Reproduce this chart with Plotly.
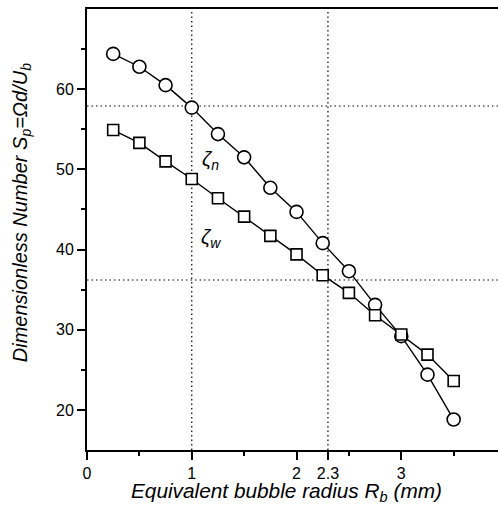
import plotly.graph_objects as go

radius = [0.25, 0.5, 0.75, 1.0, 1.25, 1.5, 1.75, 2.0, 2.25, 2.5, 2.75, 3.0, 3.25, 3.5]
zeta_n = [64.4, 62.8, 60.5, 57.7, 54.4, 51.5, 47.7, 44.7, 40.8, 37.3, 33.1, 29.2, 24.4, 18.8]
zeta_w = [54.9, 53.3, 51.0, 48.8, 46.4, 44.1, 41.7, 39.4, 36.8, 34.6, 31.8, 29.4, 26.9, 23.6]

ref_x = [1.0, 2.3]
ref_y = [57.9, 36.2]

x_tickvals = [0, 1, 2, 2.3, 3]
x_ticktext = ["0", "1", "2", "2.3", "3"]
x_minor = [0.5, 1.5, 2.5, 3.5]
y_tickvals = [20, 30, 40, 50, 60]
y_minor = [25, 35, 45, 55, 65]

XMAX = 3.99
YMIN, YMAX = 15, 70
FONT = "Liberation Sans, Arial, sans-serif"

fig = go.Figure()
fig.add_trace(go.Scatter(
    x=radius, y=zeta_n, mode="lines+markers",
    line=dict(color="black", width=1.4),
    marker=dict(symbol="circle", size=13, color="white", line=dict(color="black", width=1.6)),
    showlegend=False, cliponaxis=False, hoverinfo="skip"))
fig.add_trace(go.Scatter(
    x=radius, y=zeta_w, mode="lines+markers",
    line=dict(color="black", width=1.4),
    marker=dict(symbol="square", size=11, color="white", line=dict(color="black", width=1.6)),
    showlegend=False, cliponaxis=False, hoverinfo="skip"))

shapes = []
for xv in ref_x:
    shapes.append(dict(type="line", xref="x", yref="y", x0=xv, x1=xv, y0=YMIN, y1=YMAX,
                       line=dict(color="black", width=1.2, dash="1.5px,3px"), layer="below"))
for yv in ref_y:
    shapes.append(dict(type="line", xref="x", yref="y", x0=0, x1=XMAX, y0=yv, y1=yv,
                       line=dict(color="black", width=1.2, dash="1.5px,3px"), layer="below"))

annotations = [
    dict(x=1.18, y=51.1, xref="x", yref="y", text="<i>ζ<sub>n</sub></i>", showarrow=False,
         font=dict(family=FONT, size=20, color="black")),
    dict(x=1.18, y=41.4, xref="x", yref="y", text="<i>ζ<sub>w</sub></i>", showarrow=False,
         font=dict(family=FONT, size=20, color="black")),
    dict(x=0.477, y=-0.096, xref="paper", yref="paper", xanchor="center", yanchor="middle",
         text="<i>Equivalent bubble radius R<sub>b</sub> (mm)</i>", showarrow=False,
         font=dict(family=FONT, size=20.8, color="black")),
    dict(x=-0.158, y=0.539, xref="paper", yref="paper", xanchor="center", yanchor="middle",
         text="<i>Dimensionless Number S<sub>p</sub>=Ωd/U<sub>b</sub></i>", showarrow=False,
         textangle=-90, font=dict(family=FONT, size=20, color="black")),
]

fig.update_layout(
    width=505, height=511,
    margin=dict(l=87, r=0, t=9, b=61),
    paper_bgcolor="white", plot_bgcolor="white",
    font=dict(family=FONT, size=15, color="black"),
    shapes=shapes, annotations=annotations,
    hovermode=False,
    xaxis=dict(range=[0, XMAX], showgrid=False, zeroline=False,
               showline=True, linecolor="black", linewidth=2, mirror=True,
               ticks="outside", ticklen=8, tickwidth=1.5, tickcolor="black",
               tickmode="array", tickvals=x_tickvals, ticktext=x_ticktext,
               minor=dict(tickmode="array", tickvals=x_minor, ticks="outside", ticklen=4,
                          tickwidth=1.5, tickcolor="black", showgrid=False),
               tickfont=dict(size=16)),
    yaxis=dict(range=[YMIN, YMAX], showgrid=False, zeroline=False,
               showline=True, linecolor="black", linewidth=2, mirror=False,
               ticks="outside", ticklen=8, tickwidth=1.5, tickcolor="black",
               tickmode="array", tickvals=y_tickvals,
               minor=dict(tickmode="array", tickvals=y_minor, ticks="outside", ticklen=4,
                          tickwidth=1.5, tickcolor="black", showgrid=False),
               tickfont=dict(size=16)),
)

fig.write_html("out.html", config={"displayModeBar": False},
               post_script="document.body.style.margin='0px';document.body.style.overflow='hidden';")
